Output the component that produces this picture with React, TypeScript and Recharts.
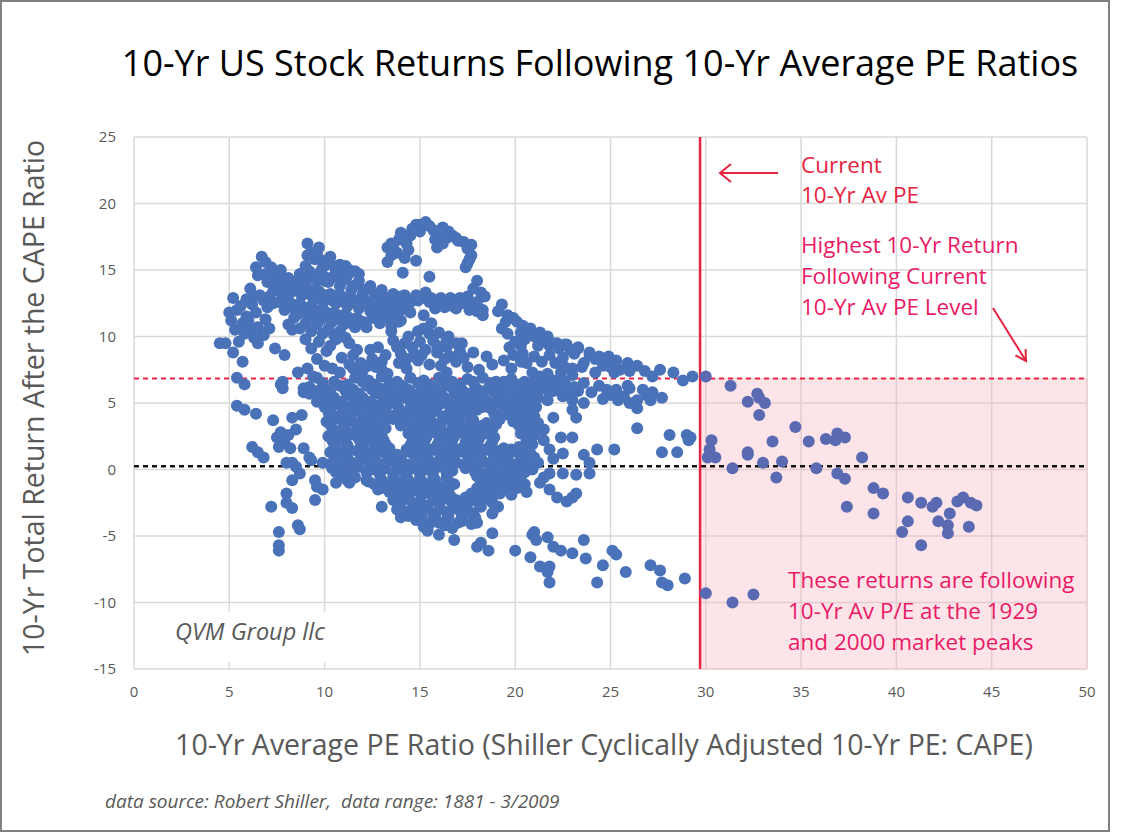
import React from 'react';
import {
  ScatterChart,
  Scatter,
  XAxis,
  YAxis,
  CartesianGrid,
  ReferenceArea,
  ReferenceLine,
} from 'recharts';

// axis ticks
const xTicks = [0, 5, 10, 15, 20, 25, 30, 35, 40, 45, 50];
const yTicks = [-15, -10, -5, 0, 5, 10, 15, 20, 25];

// reference levels
const currentPE = 29.7;
const highestReturn = 6.85;
const zeroReturn = 0.25;

// [CAPE, 10-yr return], grouped by cluster
const leftPoints: [number, number][] = [
  [4.5, 9.5], [4.8, 9.5], [5.0, 11.8], [5.2, 12.9], [5.1, 11.2], [5.3, 10.5], [5.2, 8.8], [5.7, 8.1],
  [5.4, 6.9], [5.8, 6.4], [6.1, 13.6], [6.5, 14.6], [6.7, 16.0], [7.2, 15.2], [6.8, 12.7], [7.0, 12.2],
  [6.4, 11.8], [6.1, 10.5], [6.5, 10.7], [6.8, 10.1], [6.5, 9.5], [7.4, 9.1], [7.9, 8.6], [8.3, 10.5],
  [8.6, 7.3], [7.8, 6.6], [7.8, 6.1], [8.9, 6.1], [9.2, 5.7], [8.6, 14.2], [9.1, 17.0], [9.7, 16.7],
  [9.9, 15.7], [10.0, 14.2], [7.7, 15.0], [8.0, 14.0], [5.6, 12.3], [5.5, 9.6], [5.9, 11.5], [6.2, 12.4],
  [6.9, 15.6], [7.0, 14.1], [7.3, 13.4], [6.6, 13.1],
  [5.4, 12.0], [5.7, 11.0], [5.9, 12.8], [6.3, 13.0], [6.0, 11.2], [6.3, 9.9], [5.8, 10.2], [6.9, 11.3],
  [7.1, 10.6], [7.3, 12.5], [7.1, 13.0], [6.4, 15.2], [6.9, 14.7],
  [5.4, 4.8], [5.8, 4.5], [6.4, 4.2], [6.2, 1.7], [6.5, 1.3], [6.8, 0.9], [7.3, 3.7], [7.5, 2.4],
  [7.7, 2.8], [7.9, 2.0], [8.1, 2.6], [8.2, 1.6], [7.6, 1.7], [8.3, 3.9], [8.8, 4.1], [8.5, 3.0],
  [8.9, 1.6], [9.3, 0.7], [9.9, 0.5], [8.0, 0.5], [8.3, 0.5], [8.3, -0.8], [8.7, -0.3], [8.0, -1.8],
  [8.0, -2.5], [8.3, -2.9], [7.2, -2.8], [8.6, -4.2], [8.7, -4.5], [7.6, -4.7], [7.6, -5.7], [7.6, -6.1],
  [9.5, -0.8], [9.9, -1.5], [9.5, -2.3], [8.9, 5.8], [9.1, 5.8], [9.6, 5.1], [10.0, 4.7], [7.7, 6.4],
  [8.5, 0.2], [9.2, 0.9], [9.6, -1.3],
];

const upperPoints: [number, number][] = [
  [7.3, 14.2], [7.6, 13.6], [7.9, 13.9], [8.2, 13.3], [8.5, 13.8], [8.8, 13.1], [9.1, 13.6], [9.4, 12.9],
  [9.7, 13.4], [10.0, 12.7], [10.3, 13.2], [10.6, 12.5], [10.9, 13.0], [11.2, 12.3], [11.5, 12.8], [11.8, 12.1],
  [12.1, 12.6], [12.4, 11.9], [12.7, 12.4], [13.0, 11.7], [13.3, 12.2], [13.7, 11.6], [14.0, 12.0],
  [7.6, 12.6], [7.9, 12.0], [8.3, 12.4], [8.6, 11.7], [8.9, 12.2], [9.2, 11.5], [9.5, 12.0], [9.8, 11.3],
  [10.1, 11.8], [10.4, 11.1], [10.7, 11.6], [11.0, 10.9], [11.3, 11.4], [11.6, 10.7], [13.5, 10.8], [13.9, 11.1],
  [8.1, 10.9], [8.7, 10.6], [9.3, 10.4], [9.9, 10.2], [10.5, 10.1], [11.1, 9.9],
  [8.7, 14.7], [9.0, 15.3], [9.3, 14.4], [9.5, 15.8], [9.8, 14.9], [10.1, 15.4], [10.3, 14.4], [10.6, 14.9],
  [10.9, 14.1], [11.2, 14.6], [11.5, 13.8], [11.8, 14.2], [12.1, 13.5], [12.4, 13.8], [12.7, 13.2], [13.0, 13.5],
  [13.3, 12.9], [13.6, 13.2], [13.9, 12.7], [14.2, 13.1], [14.4, 12.4],
  [9.3, 16.3], [10.3, 16.0], [10.8, 15.4], [11.3, 15.0], [11.8, 14.7],
  [7.5, 14.6], [7.8, 14.3], [8.1, 14.4], [8.4, 14.1], [8.3, 13.6], [8.6, 13.4], [8.9, 13.7], [9.2, 13.2],
  [9.5, 13.5], [9.8, 12.8], [10.1, 13.1], [10.4, 12.7], [10.7, 13.1], [11.0, 12.6], [11.4, 12.9], [11.7, 12.5],
  [12.0, 12.9], [12.3, 12.4], [12.6, 12.8], [12.9, 12.2], [13.2, 12.6], [13.5, 12.1], [13.8, 12.4],
  [7.8, 13.1], [8.1, 12.7], [8.4, 12.1], [8.7, 12.5], [9.0, 11.8], [9.3, 12.3], [9.6, 11.6], [9.9, 12.1],
  [10.2, 11.4], [10.5, 11.8], [10.8, 11.3], [11.1, 11.7], [11.4, 11.0], [11.7, 11.4], [12.0, 11.1], [12.5, 11.4],
  [12.9, 11.0], [13.3, 11.4], [8.4, 11.4], [9.0, 11.0], [9.6, 10.9], [10.2, 10.6], [10.8, 10.4],
  [8.9, 14.4], [9.2, 14.9], [9.6, 14.2], [9.9, 14.6], [10.2, 14.1], [10.5, 14.5], [10.8, 13.8], [11.1, 14.3],
  [11.4, 13.5], [11.7, 13.9], [12.0, 13.2], [12.3, 13.6], [12.6, 12.9], [12.9, 13.1], [13.3, 12.6],
  [9.1, 16.1], [9.6, 16.3], [9.9, 15.2], [10.2, 15.7], [10.5, 15.3], [10.8, 14.9], [11.1, 15.3], [11.6, 14.9],
];

const archPoints: [number, number][] = [
  [13.3, 16.7], [14.0, 17.8], [14.8, 18.4], [15.3, 18.6], [15.7, 18.0], [16.2, 18.2], [16.7, 17.6], [17.3, 17.1],
  [17.7, 16.9], [17.7, 16.1], [17.5, 15.5], [17.4, 15.2], [13.3, 15.6], [13.8, 16.3], [14.3, 17.0], [14.8, 15.7],
  [14.1, 14.8], [15.5, 14.5], [14.5, 17.6], [16.4, 17.4], [15.9, 16.7], [16.9, 17.4], [15.0, 17.9], [13.6, 16.9],
  [13.5, 17.0], [13.9, 17.3], [14.2, 17.6], [14.6, 18.1], [15.0, 18.4], [15.5, 18.3], [16.0, 17.9], [16.5, 17.9],
  [17.0, 17.2], [17.5, 16.6], [17.6, 15.8], [13.5, 16.1], [14.4, 16.5], [14.2, 15.9], [15.8, 17.3], [16.2, 17.0],
  [14.0, 13.0], [14.6, 12.7], [15.3, 13.3], [14.9, 12.7], [15.9, 12.5], [16.4, 12.6], [16.9, 12.7], [17.5, 13.0],
  [18.0, 14.2], [17.8, 13.6], [18.4, 13.0], [18.3, 12.0], [18.3, 11.6], [15.6, 12.9], [16.7, 12.3], [17.2, 12.5],
  [14.5, 11.8], [15.2, 11.6], [14.0, 11.2],
  [14.3, 12.4], [14.8, 13.1], [15.1, 12.9], [15.5, 12.6], [16.1, 12.9], [16.6, 12.9], [17.1, 12.9], [17.6, 12.6],
  [18.0, 12.6], [18.2, 13.3], [15.8, 12.1], [16.3, 12.2], [16.9, 12.1], [17.6, 12.0], [18.0, 11.9],
];

const middlePoints: [number, number][] = [
  [15.7, 9.7], [16.6, 8.5], [17.8, 8.8], [18.5, 8.5], [19.4, 8.2], [17.5, 7.7], [16.4, 7.3], [13.6, 9.7],
  [14.0, 8.7], [13.9, 8.0], [12.7, 7.7], [11.9, 8.0], [10.4, 7.6], [11.3, 9.5], [12.2, 10.7], [12.8, 9.2],
  [14.6, 9.2], [15.2, 10.6], [15.6, 11.0], [16.0, 10.3], [16.5, 10.0], [16.9, 9.5], [15.3, 9.0], [15.9, 8.8],
  [16.4, 9.2], [17.1, 8.9], [14.9, 8.2], [15.5, 7.9], [16.1, 7.8], [18.1, 7.5], [18.8, 7.9], [19.8, 7.6],
  [20.3, 8.1], [13.2, 8.6], [12.4, 9.0], [11.7, 9.0], [10.9, 8.4], [10.1, 8.9], [9.7, 9.6], [10.6, 9.8],
  [11.5, 8.6], [12.0, 7.4], [13.0, 7.5], [14.3, 7.6], [13.5, 10.4], [14.4, 10.0], [14.9, 10.4],
  [9.0, 9.8], [9.3, 9.1], [9.6, 8.3], [10.0, 7.8], [10.8, 7.3], [11.3, 7.9], [12.5, 8.3], [13.3, 7.2],
  [10.3, 9.3], [9.1, 7.6], [9.4, 7.0],
  [13.8, 9.2], [14.3, 8.3], [14.7, 8.7], [15.0, 9.6], [15.5, 10.2], [15.9, 9.3], [16.3, 8.3], [16.9, 8.1],
  [17.3, 8.4], [17.2, 9.5], [16.4, 9.8], [15.1, 8.6], [14.2, 9.5], [13.0, 8.1], [12.3, 7.8], [11.5, 7.6],
];

const rightPoints: [number, number][] = [
  [19.3, 12.4], [19.6, 11.6], [20.1, 11.1], [20.8, 10.6], [21.3, 10.3], [22.0, 9.5], [22.7, 9.4], [23.3, 9.2],
  [23.9, 8.6], [22.5, 8.4], [23.6, 8.0], [19.3, 10.6], [19.7, 9.2], [20.9, 7.3], [20.6, 8.0], [21.0, 10.0],
  [21.5, 9.7], [21.2, 9.3], [20.5, 9.8], [22.2, 9.5], [22.6, 9.4], [23.3, 9.1],
  [19.1, 11.9], [19.5, 11.1], [19.9, 11.4], [20.4, 10.8], [20.3, 10.3], [20.8, 10.2], [21.7, 10.0], [21.8, 9.3],
  [22.3, 9.1], [22.9, 9.0], [23.1, 8.7], [24.2, 8.3], [24.7, 8.2], [19.6, 10.2], [20.0, 9.6], [20.3, 9.3],
  [19.9, 8.6], [20.4, 8.7], [21.0, 8.5], [21.4, 8.1], [21.8, 8.6], [22.1, 8.0], [22.6, 7.7], [23.0, 7.6],
  [21.7, 7.2], [22.4, 7.3], [23.0, 7.1], [24.2, 7.3], [24.6, 7.8], [25.2, 7.3], [26.0, 7.4], [26.8, 7.4], [27.2, 7.0],
  [23.9, 8.8], [24.4, 8.5], [24.9, 8.5], [25.3, 8.2], [25.9, 8.0], [26.4, 7.8], [23.5, 7.7], [25.0, 7.7],
  [25.5, 7.5], [27.6, 7.5], [28.3, 7.3], [28.8, 6.7], [29.3, 7.0], [21.3, 7.0], [22.4, 6.6], [23.6, 6.5],
  [24.8, 6.0], [25.3, 6.0], [26.0, 6.1], [26.7, 6.0], [27.2, 5.8], [27.7, 5.4], [25.7, 5.5], [26.4, 5.2],
  [26.4, 4.6], [26.0, 5.0], [25.0, 5.6], [27.1, 5.2], [24.4, 6.3], [25.4, 5.2], [26.9, 5.6], [25.9, 6.3],
  [24.6, 5.3], [21.3, 6.0], [21.8, 5.8], [22.5, 5.5], [23.0, 5.2], [23.6, 5.0], [23.0, 4.5], [23.2, 3.9],
  [22.0, 3.9], [21.7, 5.2], [22.3, 6.1], [23.3, 5.9], [24.0, 5.8],
  [26.4, 3.1], [28.1, 2.6], [29.0, 2.6], [29.1, 2.2], [29.2, 2.4], [27.7, 1.3], [28.5, 1.3], [24.3, 1.5], [25.2, 1.5],
  [21.5, 3.0], [21.5, 2.2], [22.4, 2.4], [23.0, 2.4], [21.8, 1.5], [22.5, 1.2], [23.6, 1.1], [23.9, 0.5],
  [23.9, -0.3], [23.2, -0.4], [22.5, -0.3], [21.8, -0.3], [21.3, -1.0], [21.8, -1.5], [22.2, -2.1], [23.0, -2.1],
  [22.7, -2.4], [23.2, -1.8], [21.2, 0.5], [22.0, 0.8], [21.5, -0.6],
];

const corePoints: [number, number][] = [
  [9.6, 6.9], [10.5, 6.6], [11.6, 6.9], [12.3, 6.7], [13.0, 7.0], [13.8, 6.6], [14.5, 6.9], [15.2, 6.7],
  [16.0, 6.9], [16.7, 6.6], [17.5, 6.8], [18.3, 6.9], [19.0, 6.6], [19.8, 6.8], [20.5, 6.6], [21.3, 6.9], [22.0, 6.7],
  [9.9, 6.5], [11.2, 6.4], [12.0, 6.6], [12.6, 6.4], [13.4, 6.5], [14.1, 6.3], [14.9, 6.5], [15.5, 6.4],
  [16.3, 6.6], [17.1, 6.4], [17.8, 6.6], [18.7, 6.5], [19.4, 6.6], [20.2, 6.4], [20.9, 6.5], [21.7, 6.6], [22.6, 6.6],
  [9.2, 6.2], [10.0, 6.1], [10.8, 6.3], [11.5, 6.0], [12.2, 6.3], [12.9, 6.1], [13.6, 6.3], [14.4, 6.0],
  [15.1, 6.2], [15.8, 6.1], [16.5, 6.3], [17.2, 6.0], [17.9, 6.2], [18.6, 6.1], [19.3, 6.3], [20.0, 6.0],
  [20.7, 6.2], [21.5, 6.4], [22.3, 6.3], [23.1, 6.2],
  [9.5, 5.9], [10.3, 5.8], [11.1, 5.9], [11.8, 5.7], [12.5, 6.0], [13.2, 5.8], [13.9, 5.9], [14.6, 5.7],
  [15.4, 5.9], [16.1, 5.8], [16.8, 5.9], [17.5, 5.7], [18.2, 5.9], [18.9, 5.8], [19.6, 6.0], [20.3, 5.8],
  [21.0, 5.9], [22.0, 5.9], [22.8, 5.8],
  [9.8, 5.6], [10.5, 5.4], [11.3, 5.6], [12.0, 5.4], [12.7, 5.7], [13.4, 5.5], [14.1, 5.4], [14.9, 5.6],
  [15.6, 5.5], [16.3, 5.4], [17.0, 5.6], [17.7, 5.5], [18.4, 5.3], [19.1, 5.6], [19.8, 5.4], [20.5, 5.6], [21.2, 5.4],
  [10.2, 5.2], [10.9, 5.1], [11.7, 5.3], [12.4, 5.1], [13.1, 5.2], [13.8, 5.3], [14.5, 5.1], [15.2, 5.3],
  [15.9, 5.1], [16.6, 5.2], [17.3, 5.1], [18.0, 5.2], [18.7, 5.0], [19.4, 5.2], [20.1, 5.1], [20.8, 5.2],
  [10.6, 4.9], [11.4, 4.8], [12.1, 5.0], [12.8, 4.8], [13.5, 5.0], [14.8, 4.9], [15.5, 4.7], [16.2, 5.0],
  [16.9, 4.8], [17.6, 4.9], [18.3, 4.7], [19.0, 5.0], [19.7, 4.8], [20.4, 4.9], [21.1, 4.7],
  [10.3, 4.6], [11.0, 4.5], [11.8, 4.7], [12.5, 4.6], [13.2, 4.5], [13.9, 4.6], [14.5, 4.6], [15.2, 4.5],
  [15.9, 4.7], [16.6, 4.5], [17.3, 4.6], [18.0, 4.5], [18.7, 4.6], [19.4, 4.5], [20.1, 4.6], [20.7, 4.5],
  [10.2, 4.3], [10.9, 4.2], [11.6, 4.4], [12.3, 4.2], [13.0, 4.3], [13.7, 4.1], [14.4, 4.3], [15.1, 4.2],
  [15.8, 4.4], [16.5, 4.1], [17.2, 4.3], [18.9, 4.2], [19.6, 4.4], [20.3, 4.2], [20.9, 4.3],
  [10.5, 4.0], [11.3, 3.9], [12.0, 4.1], [12.7, 3.9], [13.4, 4.0], [14.1, 3.9], [14.8, 4.1], [15.5, 3.9],
  [16.2, 4.0], [16.9, 4.0], [17.6, 4.1], [19.0, 3.9], [19.7, 4.1], [20.4, 4.0], [21.0, 4.0],
  [10.1, 3.6], [10.8, 3.8], [11.5, 3.6], [12.2, 3.7], [12.9, 3.5], [13.6, 3.8], [14.3, 3.6], [15.0, 3.7],
  [15.7, 3.5], [16.4, 3.8], [17.1, 3.6], [17.8, 3.7], [18.5, 3.5], [19.2, 3.8], [19.9, 3.6], [20.6, 3.7], [21.2, 3.5],
  [10.3, 3.4], [11.0, 3.3], [11.7, 3.4], [12.4, 3.3], [13.1, 3.4], [14.0, 3.3], [14.7, 3.4], [15.4, 3.3],
  [16.1, 3.4], [16.8, 3.3], [17.6, 3.4], [18.3, 3.3], [19.0, 3.4], [20.2, 3.3], [20.9, 3.3],
  [10.4, 3.1], [11.1, 3.0], [11.8, 3.2], [12.5, 3.0], [13.2, 3.1], [14.6, 3.0], [15.3, 3.2], [16.0, 3.0],
  [16.7, 3.1], [17.4, 2.9], [18.1, 3.2], [18.8, 3.0], [20.5, 3.1], [21.1, 2.9],
  [10.6, 2.8], [11.4, 2.7], [12.1, 2.9], [12.8, 2.8], [14.4, 2.7], [15.0, 2.9], [15.7, 2.8], [16.4, 2.7],
  [17.1, 2.8], [17.8, 2.8], [18.5, 2.7], [20.3, 2.7], [21.0, 2.6],
  [10.2, 2.5], [10.9, 2.4], [11.6, 2.6], [12.3, 2.4], [13.0, 2.5], [14.7, 2.4], [15.4, 2.6], [16.1, 2.4],
  [16.8, 2.5], [17.5, 2.3], [18.2, 2.6], [18.9, 2.4], [20.8, 2.5],
  [10.4, 2.2], [11.1, 2.1], [11.8, 2.3], [12.5, 2.1], [13.1, 2.2], [14.6, 2.1], [15.3, 2.3], [16.0, 2.1],
  [16.7, 2.2], [17.4, 2.1], [18.1, 2.3], [18.8, 2.1], [20.6, 2.2],
  [10.5, 1.9], [11.2, 1.8], [11.9, 2.0], [12.6, 1.8], [13.2, 1.9], [14.5, 1.8], [15.2, 2.0], [15.9, 1.8],
  [16.6, 1.9], [17.3, 1.7], [18.0, 2.0], [18.7, 1.8], [19.4, 1.6], [20.2, 1.7], [20.9, 1.9],
  [10.6, 1.6], [11.3, 1.5], [12.0, 1.7], [12.7, 1.5], [13.4, 1.6], [14.3, 1.5], [14.9, 1.6], [15.6, 1.5],
  [16.3, 1.7], [17.0, 1.5], [17.7, 1.6], [18.4, 1.5], [19.1, 1.4], [19.8, 1.5], [20.5, 1.6],
  [10.3, 1.3], [11.0, 1.2], [11.7, 1.4], [12.4, 1.2], [13.1, 1.3], [13.8, 1.1], [14.5, 1.3], [15.2, 1.2],
  [15.9, 1.4], [16.6, 1.1], [17.3, 1.3], [18.0, 1.2], [18.7, 1.4], [19.4, 1.1], [20.1, 1.3], [20.8, 1.2],
  [10.5, 1.0], [11.2, 0.9], [11.9, 1.1], [12.6, 0.9], [13.3, 1.0], [14.0, 0.9], [14.7, 1.1], [15.4, 0.9],
  [16.1, 1.0], [16.8, 0.9], [17.5, 1.1], [18.2, 0.9], [18.9, 1.0], [19.6, 0.9], [20.3, 1.0], [21.0, 0.9],
  [10.6, 0.7], [11.3, 0.6], [12.0, 0.8], [12.7, 0.6], [13.4, 0.7], [14.1, 0.5], [14.8, 0.7], [15.5, 0.6],
  [16.2, 0.8], [16.9, 0.5], [17.6, 0.7], [18.3, 0.6], [19.0, 0.8], [19.7, 0.5], [20.4, 0.7],
  [10.3, 0.4], [11.0, 0.3], [11.7, 0.5], [12.4, 0.3], [13.1, 0.4], [13.8, 0.3], [14.5, 0.4], [15.2, 0.3],
  [15.9, 0.5], [16.6, 0.3], [17.3, 0.4], [18.0, 0.3], [18.7, 0.5], [19.4, 0.3], [20.1, 0.4], [20.8, 0.3],
  [10.4, 0.1], [11.1, 0.0], [11.8, 0.2], [12.5, 0.0], [13.2, 0.1], [13.9, -0.1], [14.6, 0.1], [15.3, 0.0],
  [16.0, 0.2], [16.7, -0.1], [17.4, 0.1], [18.1, 0.0], [18.8, 0.2], [19.5, -0.1], [20.2, 0.1], [20.9, 0.0],
  [10.6, -0.2], [11.4, -0.3], [12.2, -0.2], [12.9, -0.1], [13.6, -0.3], [14.3, -0.2], [15.0, -0.3], [15.7, -0.1],
  [16.4, -0.2], [17.9, -0.2], [18.5, -0.3], [19.1, -0.2], [19.8, -0.3], [20.5, -0.2],
  [10.8, -0.5], [11.6, -0.6], [12.9, -0.4], [13.6, -0.6], [14.3, -0.5], [15.0, -0.7], [15.7, -0.5], [16.4, -0.6],
  [18.0, -0.5], [18.7, -0.7], [19.4, -0.5], [20.1, -0.6],
  [11.2, -0.8], [12.2, -0.8], [13.0, -0.8], [13.7, -0.9], [14.4, -0.8], [15.1, -0.9], [15.8, -0.8], [16.5, -0.9],
  [18.2, -0.9], [18.9, -0.8], [19.6, -0.9], [20.3, -0.8],
  [12.6, -1.1], [13.3, -1.2], [14.0, -1.0], [14.7, -1.2], [15.4, -1.1], [16.1, -1.3], [16.8, -1.1], [18.4, -1.2],
  [19.1, -1.0], [19.8, -1.2], [20.5, -1.1],
  [13.0, -1.4], [13.7, -1.5], [14.4, -1.3], [15.1, -1.5], [15.8, -1.4], [16.5, -1.5], [18.0, -1.4], [18.7, -1.3],
  [19.4, -1.5], [20.1, -1.4],
  [13.4, -1.7], [14.1, -1.8], [14.8, -1.6], [15.5, -1.8], [16.2, -1.7], [17.7, -1.8], [18.4, -1.6], [19.1, -1.8],
  [13.7, -2.0], [14.4, -2.1], [15.1, -1.9], [15.8, -2.1], [16.6, -2.0], [17.4, -2.1], [18.1, -2.0], [18.8, -1.9],
  [13.6, -2.3], [14.3, -2.2], [15.0, -2.4], [15.7, -2.3], [16.4, -2.2], [17.1, -2.4], [17.8, -2.3], [18.5, -2.2],
  [13.9, -2.6], [14.6, -2.5], [15.3, -2.7], [16.0, -2.6], [16.7, -2.5], [17.4, -2.7], [18.1, -2.6], [18.8, -2.5],
  [14.0, -2.9], [14.7, -3.0], [15.4, -2.8], [16.1, -3.0], [16.8, -2.9], [17.5, -3.0], [18.2, -2.8],
  [14.3, -3.2], [15.0, -3.1], [15.7, -3.3], [16.4, -3.2], [17.1, -3.1], [17.8, -3.3],
  [14.4, -3.5], [15.1, -3.4], [15.8, -3.6], [16.5, -3.5], [17.2, -3.4], [17.9, -3.6],
  [14.8, -3.8], [15.6, -3.9], [16.4, -3.8], [17.2, -3.9], [17.9, -3.8],
  [15.5, -4.1], [16.3, -4.2], [17.0, -4.0], [17.7, -4.1],
];

const lowerPoints: [number, number][] = [
  [10.6, -1.0], [11.3, -1.0], [12.3, -0.9], [12.8, -1.5], [13.0, -2.8], [14.0, -3.6], [13.8, -3.0], [15.0, -3.8],
  [15.2, -4.3], [15.4, -4.6], [16.0, -4.0], [16.0, -4.9], [16.7, -4.4], [16.8, -5.3], [18.0, -5.8], [18.2, -5.5],
  [18.6, -6.1], [18.8, -4.8], [18.0, -4.0], [18.8, -3.3], [19.1, -2.8], [17.6, -3.3], [16.9, -2.3], [16.0, -2.1],
  [19.2, -1.8], [19.8, -1.9], [20.6, -1.7], [20.0, -6.1], [20.9, -4.9], [20.8, -6.6],
  [21.0, -4.7], [21.1, -5.3], [21.7, -5.1], [22.0, -5.8], [22.4, -6.1], [23.6, -5.3], [23.0, -6.3], [23.7, -6.7],
  [21.3, -7.3], [21.7, -7.7], [21.8, -7.3], [21.8, -8.5], [24.6, -7.2], [24.3, -8.5], [25.1, -6.1], [25.3, -6.4],
  [25.8, -7.7], [27.1, -7.2], [27.6, -7.6], [27.7, -8.5], [28.0, -8.7], [28.9, -8.2],
];

// 1929 and 2000 peaks, right of the current CAPE line
const peakPoints: [number, number][] = [
  [30.0, 7.0], [31.3, 6.3], [32.2, 5.1], [32.7, 5.7], [32.8, 5.4], [33.1, 5.0], [32.8, 4.1], [30.3, 2.2],
  [30.1, 0.9], [30.5, 0.9], [30.2, 1.5], [31.4, 0.1], [32.2, 1.3], [32.2, 1.1], [33.0, 0.5], [33.5, 2.1],
  [33.7, -0.6], [34.0, 0.6], [34.7, 3.2], [35.4, 2.1], [35.8, 0.1], [36.3, 2.3], [36.8, 2.2], [36.9, 2.7],
  [37.3, 2.4], [36.9, -0.3], [37.3, -0.7], [37.4, -2.8], [38.2, 0.9], [38.8, -1.4], [39.3, -1.8], [38.8, -3.3],
  [40.6, -2.1], [40.6, -3.9], [40.3, -4.7], [41.3, -5.7], [41.3, -2.5], [41.9, -2.8], [42.1, -2.5], [42.2, -3.9],
  [42.7, -4.2], [42.7, -4.8], [42.8, -3.3], [43.2, -2.4], [43.5, -2.1], [43.9, -2.5], [44.2, -2.7], [43.8, -4.3],
  [30.0, -9.3], [31.4, -10.0], [32.5, -9.4],
];

const toXY = (pts: [number, number][]) => pts.map(([x, y]) => ({ x, y }));

const mainData = toXY([
  ...leftPoints, ...upperPoints, ...archPoints, ...middlePoints,
  ...rightPoints, ...corePoints, ...lowerPoints,
]);
const peakData = toXY(peakPoints);

const FONT = '"Open Sans", "Noto Sans", sans-serif';
const GREY = '#595959';
const RED = '#e6243f';
const PINK = '#ea1a66';

const dot = (fill: string) => (props: any) => (
  <circle cx={props.cx} cy={props.cy} r={6} fill={fill} />
);

export default function App() {
  return (
    <div style={{ position: 'absolute', left: 0, top: 0, width: 1121, height: 832, background: '#fff', fontFamily: FONT }}>
      <ScatterChart width={1121} height={832} margin={{ top: 137, right: 34, bottom: 123, left: 74 }}>
        <CartesianGrid stroke="#d9d9d9" strokeWidth={1.5} />
        <XAxis
          type="number" dataKey="x" domain={[0, 50]} ticks={xTicks} height={40}
          axisLine={false} tickLine={false} tickMargin={11}
          tick={{ fill: GREY, fontSize: 15, fontFamily: FONT }}
        />
        <YAxis
          type="number" dataKey="y" domain={[-15, 25]} ticks={yTicks} width={60}
          axisLine={false} tickLine={false} tickMargin={12}
          tick={{ fill: GREY, fontSize: 15, fontFamily: FONT }}
        />
        <ReferenceArea x1={currentPE} x2={50} y1={-15} y2={highestReturn} fill="#f7b3c0" fillOpacity={0.35} stroke="#f0cdd3" />
        <ReferenceArea x1={0.3} x2={14} y1={-14.5} y2={-10.7} fill="#ffffff" fillOpacity={1} stroke="none" />
        <Scatter data={mainData} fill="#4a72b8" shape={dot('#4a72b8')} isAnimationActive={false} />
        <Scatter data={peakData} fill="#5a6ab2" shape={dot('#5a6ab2')} isAnimationActive={false} />
        <ReferenceLine y={highestReturn} stroke="#ee2244" strokeWidth={2} strokeDasharray="5 4" />
        <ReferenceLine y={zeroReturn} stroke="#111" strokeWidth={2.5} strokeDasharray="5 4" />
        <ReferenceLine x={currentPE} stroke={RED} strokeWidth={2.5} />
      </ScatterChart>

      <svg width={1121} height={832} style={{ position: 'absolute', left: 0, top: 0, pointerEvents: 'none' }} fontFamily={FONT}>
        <text x={600} y={76} textAnchor="middle" fontSize={36} fill="#000">
          10-Yr US Stock Returns Following 10-Yr Average PE Ratios
        </text>
        <text x={33} y={398} textAnchor="middle" dominantBaseline="central" fontSize={28.5} fill={GREY} transform="rotate(-90 33 398)">
          10-Yr Total Return After the CAPE Ratio
        </text>
        <text x={604} y={755} textAnchor="middle" fontSize={28.5} fill={GREY}>
          10-Yr Average PE Ratio (Shiller Cyclically Adjusted 10-Yr PE: CAPE)
        </text>
        <text x={105} y={808} fontSize={19} fontStyle="italic" fill={GREY} xmlSpace="preserve">
          data source: Robert Shiller,  data range: 1881 - 3/2009
        </text>
        <text x={175} y={640} fontSize={23.5} fontStyle="italic" fill={GREY}>QVM Group llc</text>

        <text x={801} y={173} fontSize={22.5} fill={RED}>Current</text>
        <text x={801} y={203} fontSize={22.5} fill={RED}>10-Yr Av PE</text>
        <line x1={720} y1={173} x2={778} y2={173} stroke={RED} strokeWidth={2} />
        <polyline points="731,164 720,173 731,182" fill="none" stroke={RED} strokeWidth={2} />

        <text x={801} y={253} fontSize={22.5} fill={PINK}>Highest 10-Yr Return</text>
        <text x={801} y={284} fontSize={22.5} fill={PINK}>Following Current</text>
        <text x={801} y={315} fontSize={22.5} fill={PINK}>10-Yr Av PE Level</text>
        <line x1={993} y1={308} x2={1026} y2={361} stroke={RED} strokeWidth={2} />
        <polyline points="1015.4,355.3 1026,361 1025.6,349" fill="none" stroke={RED} strokeWidth={2} />

        <text x={788} y={588} fontSize={22.5} fill={PINK}>These returns are following</text>
        <text x={788} y={619} fontSize={22.5} fill={PINK}>10-Yr Av P/E at the 1929</text>
        <text x={788} y={650} fontSize={22.5} fill={PINK}>and 2000 market peaks</text>
      </svg>

      <div style={{ position: 'absolute', left: 0, top: 0, width: 1110, height: 832, border: '2px solid #808080', boxSizing: 'border-box', pointerEvents: 'none' }} />
    </div>
  );
}
